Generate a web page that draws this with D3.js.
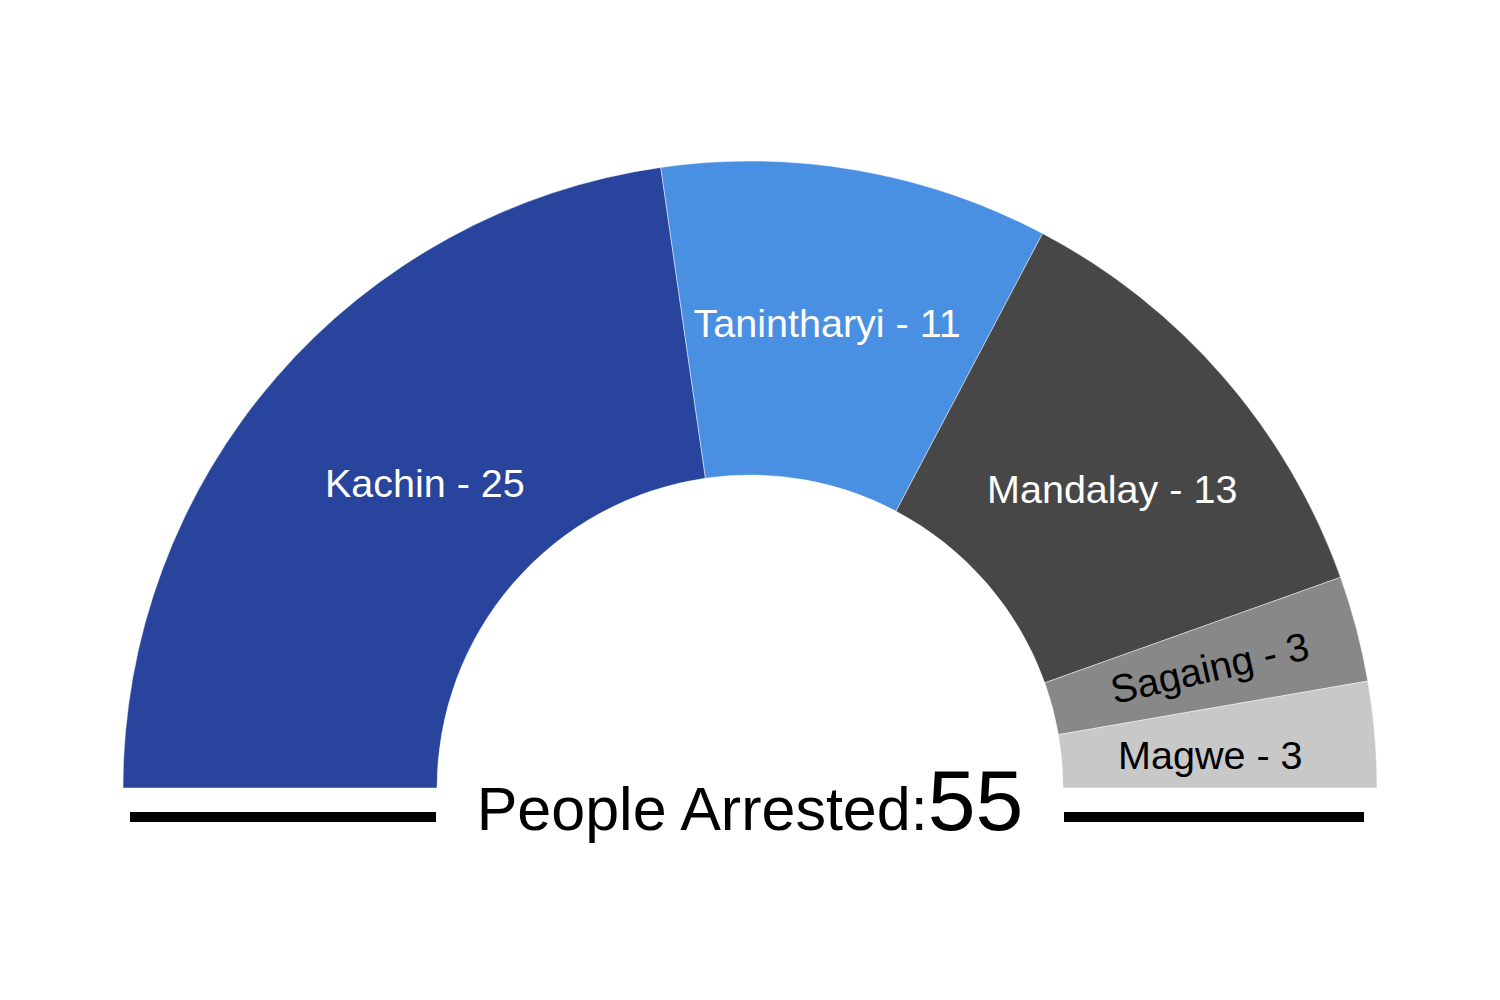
<!DOCTYPE html>
<html>
<head>
<meta charset="utf-8">
<script src="https://cdn.jsdelivr.net/npm/d3@7"></script>
<style>
  html, body { margin: 0; padding: 0; background: #ffffff; }
  svg { display: block; font-family: "Liberation Sans", Arial, sans-serif; }
</style>
</head>
<body>
<svg id="chart" width="1500" height="1000"></svg>
<script>
// ---- data ----
const regions = ["Kachin", "Tanintharyi", "Mandalay", "Sagaing", "Magwe"];
const arrested = [25, 11, 13, 3, 3];
const sliceColors = ["#28449c", "#4a90e2", "#474747", "#888888", "#c8c8c8"];
const labelColors = ["#ffffff", "#ffffff", "#ffffff", "#000000", "#000000"];
const titleText = "People Arrested:";

// ---- layout ----
const W = 1500, H = 1000;
const cx = 750, cy = 788;
const outerR = 627, innerR = 313;
const labelR = 470;
// label nudges / rotations (presentation only)
const labelDx = [30, -3, 7, 5, -8];
const labelDy = [3, -2, 9, -1, 7];
const labelRot = [0, 0, 0, -13, 0];

const svg = d3.select("#chart");
const g = svg.append("g").attr("transform", `translate(${cx},${cy})`);

const data = regions.map((r, i) => ({ region: r, value: arrested[i], idx: i }));
const total = d3.sum(arrested);

const pie = d3.pie()
  .value(d => d.value)
  .sort(null)
  .startAngle(-Math.PI / 2)
  .endAngle(Math.PI / 2);

const arc = d3.arc().innerRadius(innerR).outerRadius(outerR);
const arcs = pie(data);

g.selectAll("path.slice")
  .data(arcs)
  .enter().append("path")
  .attr("class", "slice")
  .attr("d", arc)
  .attr("fill", d => sliceColors[d.data.idx])
  .attr("stroke", "rgba(255,255,255,0.45)")
  .attr("stroke-width", 1);

g.selectAll("text.label")
  .data(arcs)
  .enter().append("text")
  .attr("class", "label")
  .attr("transform", d => {
    const a = (d.startAngle + d.endAngle) / 2;
    const x = labelR * Math.sin(a) + labelDx[d.data.idx];
    const y = -labelR * Math.cos(a) + labelDy[d.data.idx];
    return `translate(${x},${y}) rotate(${labelRot[d.data.idx]})`;
  })
  .attr("text-anchor", "middle")
  .attr("dy", "0.36em")
  .attr("font-size", 39.5)
  .attr("fill", d => labelColors[d.data.idx])
  .text(d => `${d.data.region} - ${d.data.value}`);

// base lines
const lineY = 817;
svg.append("line")
  .attr("x1", 130).attr("x2", 436)
  .attr("y1", lineY).attr("y2", lineY)
  .attr("stroke", "#000").attr("stroke-width", 10);
svg.append("line")
  .attr("x1", 1064).attr("x2", 1364)
  .attr("y1", lineY).attr("y2", lineY)
  .attr("stroke", "#000").attr("stroke-width", 10);

// title
const title = svg.append("text")
  .attr("x", cx)
  .attr("y", 830)
  .attr("text-anchor", "middle")
  .attr("fill", "#000");
title.append("tspan").attr("font-size", 61).text(titleText);
title.append("tspan").attr("font-size", 86).text(total);
</script>
</body>
</html>
